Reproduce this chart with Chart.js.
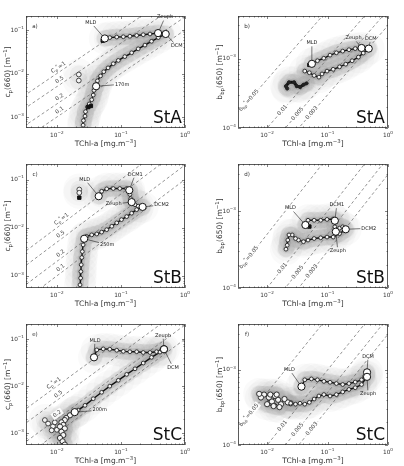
<!DOCTYPE html>
<html>
<head>
<meta charset="utf-8">
<script src="https://cdn.jsdelivr.net/npm/chart.js@4.4.0/dist/chart.umd.min.js"></script>
<style>
body { margin: 0; background: #fff; }
#wrap { position: relative; width: 404px; height: 466px; }
canvas { position: absolute; left: 0; top: 0; }
</style>
</head>
<body>
<div id="wrap">
<canvas id="pa" width="404" height="466"></canvas>
<canvas id="pb" width="404" height="466"></canvas>
<canvas id="pc" width="404" height="466"></canvas>
<canvas id="pd" width="404" height="466"></canvas>
<canvas id="pe" width="404" height="466"></canvas>
<canvas id="pf" width="404" height="466"></canvas>
</div>
<script>
// axis ranges
var chlRange = [0.0033, 1];
var cpRange = [5.6e-4, 0.21];
var bbpRange = [1e-4, 4.1e-3];
var lineChl = [0.0005, 20];

// constant ratio lines
var cpRatios = [1, 0.5, 0.2, 0.1];
var cpRatioLabels = ["C_{p}^{*}=1", "0.5", "0.2", "0.1"];
var bbpRatios = [0.05, 0.01, 0.005, 0.003];
var bbpRatioLabels = ["b_{bp}^{*}=0.05", "0.01", "0.005", "0.003"];

// StA
var aChl = [0.056, 0.067, 0.086, 0.109, 0.138, 0.176, 0.223, 0.284, 0.38, 0.50, 0.383, 0.30, 0.237, 0.186, 0.147, 0.115, 0.091, 0.076, 0.063, 0.054, 0.048, 0.043, 0.041, 0.038, 0.037, 0.035, 0.032, 0.030, 0.028, 0.0275, 0.026, 0.0257];
var aCp = [0.064, 0.067, 0.069, 0.070, 0.072, 0.075, 0.078, 0.081, 0.085, 0.081, 0.067, 0.055, 0.045, 0.037, 0.030, 0.0245, 0.020, 0.0168, 0.0135, 0.011, 0.0088, 0.0068, 0.0051, 0.0041, 0.0032, 0.0025, 0.0020, 0.0017, 0.00133, 0.00105, 0.00083, 0.00065];
var aMarkNames = ["MLD", "Zeuph", "DCM", "170m"];
var aMarkChl = [0.056, 0.38, 0.50, 0.041];
var aMarkCp = [0.064, 0.085, 0.081, 0.0051];
var aExtraChl = [0.022, 0.022];
var aExtraCp = [0.0095, 0.0069];
var aDarkChl = [0.052, 0.031, 0.034];
var aDarkCp = [0.057, 0.0017, 0.0018];

var bChl = [0.055, 0.068, 0.0866, 0.110, 0.14, 0.178, 0.226, 0.287, 0.365, 0.48, 0.39, 0.324, 0.255, 0.20, 0.158, 0.124, 0.098, 0.081, 0.072, 0.060, 0.050, 0.042];
var bBbp = [8.4e-4, 9.3e-4, 1.01e-3, 1.12e-3, 1.21e-3, 1.28e-3, 1.34e-3, 1.39e-3, 1.42e-3, 1.39e-3, 1.2e-3, 1.05e-3, 9.3e-4, 8.3e-4, 7.6e-4, 7.0e-4, 6.6e-4, 6.0e-4, 5.4e-4, 5.7e-4, 6.25e-4, 6.6e-4];
var bDeepChl = [0.045, 0.040, 0.035, 0.031, 0.028, 0.023, 0.0205, 0.0215];
var bDeepBbp = [4.4e-4, 4.2e-4, 3.9e-4, 4.0e-4, 4.55e-4, 4.55e-4, 4.0e-4, 3.7e-4];
var bMarkNames = ["MLD", "Zeuph", "DCM"];
var bMarkChl = [0.055, 0.365, 0.48];
var bMarkBbp = [8.4e-4, 1.42e-3, 1.39e-3];
var bDarkChl = [0.05];
var bDarkBbp = [8.1e-4];

// StB
var cChl = [0.045, 0.050, 0.060, 0.076, 0.096, 0.123, 0.135, 0.138, 0.142, 0.147, 0.166, 0.186, 0.218, 0.176, 0.147, 0.123, 0.102, 0.086, 0.072, 0.060, 0.050, 0.042, 0.035, 0.029, 0.0267, 0.0257, 0.025, 0.0245, 0.024, 0.0237, 0.0235, 0.023];
var cCp = [0.045, 0.057, 0.064, 0.065, 0.065, 0.065, 0.060, 0.049, 0.040, 0.034, 0.030, 0.028, 0.027, 0.0237, 0.020, 0.017, 0.0147, 0.0126, 0.0107, 0.0091, 0.0081, 0.0074, 0.0071, 0.0066, 0.0059, 0.0044, 0.0032, 0.0024, 0.0017, 0.00123, 0.0009, 0.00065];
var cMarkNames = ["MLD", "DCM1", "Zeuph", "DCM2", "250m"];
var cMarkChl = [0.045, 0.135, 0.147, 0.218, 0.0267];
var cMarkCp = [0.045, 0.060, 0.034, 0.027, 0.0059];
var cExtraChl = [0.0224, 0.0224];
var cExtraCp = [0.062, 0.053];
var cDarkChl = [0.0224];
var cDarkCp = [0.042];

var dChl = [0.043, 0.0475, 0.060, 0.077, 0.098, 0.124, 0.132, 0.132, 0.137, 0.158, 0.178, 0.20, 0.158, 0.124, 0.098, 0.077, 0.060, 0.0475, 0.040, 0.033, 0.0295, 0.026, 0.023, 0.022, 0.0215, 0.0205];
var dBbp = [6.6e-4, 7.6e-4, 7.6e-4, 7.6e-4, 7.8e-4, 7.9e-4, 7.5e-4, 6.25e-4, 5.4e-4, 6.0e-4, 6.25e-4, 5.8e-4, 5.1e-4, 4.6e-4, 4.6e-4, 4.5e-4, 4.4e-4, 4.2e-4, 4.0e-4, 4.2e-4, 4.4e-4, 4.9e-4, 4.9e-4, 4.2e-4, 3.6e-4, 3.2e-4];
var dMarkNames = ["MLD", "DCM1", "Zeuph", "DCM2"];
var dMarkChl = [0.043, 0.132, 0.137, 0.20];
var dMarkBbp = [6.6e-4, 7.5e-4, 5.4e-4, 5.8e-4];
var dDarkChl = [0.05];
var dDarkBbp = [6.3e-4];

// StC
var eChl = [0.038, 0.042, 0.053, 0.067, 0.086, 0.109, 0.138, 0.176, 0.223, 0.284, 0.36, 0.43, 0.47, 0.407, 0.30, 0.223, 0.166, 0.123, 0.091, 0.067, 0.050, 0.037, 0.0275, 0.0215, 0.019];
var eCp = [0.041, 0.059, 0.062, 0.061, 0.058, 0.055, 0.054, 0.054, 0.052, 0.052, 0.054, 0.059, 0.061, 0.053, 0.041, 0.031, 0.0234, 0.0178, 0.0133, 0.010, 0.0074, 0.0054, 0.0039, 0.0031, 0.0028];
var eDeepChl = [0.019, 0.016, 0.014, 0.0133, 0.0118, 0.0126, 0.0112, 0.0133, 0.0118, 0.0126, 0.0112, 0.0123, 0.0133];
var eDeepCp = [0.0028, 0.0024, 0.0021, 0.0019, 0.0017, 0.0015, 0.00138, 0.00126, 0.00107, 0.00091, 0.00079, 0.00067, 0.00057];
var eMarkNames = ["MLD", "Zeuph", "DCM", "200m"];
var eMarkChl = [0.038, 0.47, 0.47, 0.019];
var eMarkCp = [0.041, 0.061, 0.061, 0.0028];
var eExtraChl = [0.0065, 0.0073, 0.0087, 0.0093, 0.010, 0.0083];
var eExtraCp = [0.0019, 0.0016, 0.0014, 0.0017, 0.00118, 0.00115];

var fChl = [0.037, 0.042, 0.054, 0.068, 0.087, 0.110, 0.14, 0.178, 0.226, 0.287, 0.365, 0.41, 0.45, 0.45, 0.365, 0.287, 0.226, 0.178, 0.14, 0.11, 0.087, 0.072, 0.060, 0.050, 0.042, 0.035, 0.0295, 0.0245];
var fBbp = [6.0e-4, 7.4e-4, 7.6e-4, 7.4e-4, 7.05e-4, 6.85e-4, 6.6e-4, 6.4e-4, 6.6e-4, 6.9e-4, 7.4e-4, 8.2e-4, 9.3e-4, 8.1e-4, 6.4e-4, 5.8e-4, 5.5e-4, 5.1e-4, 4.7e-4, 4.5e-4, 4.7e-4, 4.5e-4, 4.1e-4, 3.7e-4, 3.5e-4, 3.6e-4, 3.5e-4, 3.6e-4];
var fDeepChl = [0.0245, 0.022, 0.0194, 0.017, 0.0152, 0.0135, 0.012, 0.0107, 0.010, 0.0128, 0.016, 0.0089, 0.0079, 0.0113, 0.0144, 0.0074];
var fDeepBbp = [3.6e-4, 3.7e-4, 4.1e-4, 3.5e-4, 4.0e-4, 4.5e-4, 3.8e-4, 4.3e-4, 3.5e-4, 3.3e-4, 3.2e-4, 4.7e-4, 4.3e-4, 4.7e-4, 4.7e-4, 4.8e-4];
var fMarkNames = ["MLD", "DCM", "Zeuph"];
var fMarkChl = [0.037, 0.45, 0.45];
var fMarkBbp = [6.0e-4, 9.3e-4, 8.1e-4];

var FONT = '"DejaVu Sans", sans-serif';

var panels = [
    {id: "pa", box: [26, 4, 185, 128], kind: "cp", letter: "a)", station: "StA",
     chl: aChl, val: aCp, markNames: aMarkNames, markChl: aMarkChl, markVal: aMarkCp,
     extraChl: aExtraChl, extraVal: aExtraCp, darkChl: aDarkChl, darkVal: aDarkCp,
     labelAt: [0.0115, 0.012, 0.012, 0.012],
     notes: {"MLD": [-14, -16], "Zeuph": [7, -16], "DCM": [11, 12], "170m": [26, -2]}},
    {id: "pb", box: [238, 4, 398, 128], kind: "bbp", letter: "b)", station: "StA",
     chl: bChl, val: bBbp, deepChl: bDeepChl, deepVal: bDeepBbp, deepDense: true,
     markNames: bMarkNames, markChl: bMarkChl, markVal: bMarkBbp,
     darkChl: bDarkChl, darkVal: bDarkBbp,
     labelAt: [0.005, 0.018, 0.032, 0.055],
     notes: {"MLD": [0, -21], "Zeuph": [-8, -10], "DCM": [2, -10]}},
    {id: "pc", box: [26, 164, 185, 288], kind: "cp", letter: "c)", station: "StB",
     chl: cChl, val: cCp, markNames: cMarkNames, markChl: cMarkChl, markVal: cMarkCp,
     extraChl: cExtraChl, extraVal: cExtraCp, darkChl: cDarkChl, darkVal: cDarkCp,
     labelAt: [0.0129, 0.0125, 0.0125, 0.0125],
     notes: {"MLD": [-14, -17], "DCM1": [6, -16], "Zeuph": [-18, 2], "DCM2": [19, -2], "250m": [23, 6]}},
    {id: "pd", box: [238, 164, 398, 288], kind: "bbp", letter: "d)", station: "StB",
     chl: dChl, val: dBbp, markNames: dMarkNames, markChl: dMarkChl, markVal: dMarkBbp,
     darkChl: dDarkChl, darkVal: dDarkBbp,
     labelAt: [0.005, 0.018, 0.032, 0.055],
     notes: {"MLD": [-15, -17], "DCM1": [2, -16], "Zeuph": [2, 19], "DCM2": [23, -1]}},
    {id: "pe", box: [26, 324, 185, 445], kind: "cp", letter: "e)", station: "StC",
     chl: eChl, val: eCp, deepChl: eDeepChl, deepVal: eDeepCp,
     markNames: eMarkNames, markChl: eMarkChl, markVal: eMarkCp,
     extraChl: eExtraChl, extraVal: eExtraCp,
     labelAt: [0.0098, 0.0115, 0.011],
     notes: {"MLD": [1, -17], "Zeuph": [-1, -14], "DCM": [9, 18], "200m": [25, -2]}},
    {id: "pf", box: [238, 324, 398, 445], kind: "bbp", letter: "f)", station: "StC",
     chl: fChl, val: fBbp, deepChl: fDeepChl, deepVal: fDeepBbp,
     markNames: fMarkNames, markChl: fMarkChl, markVal: fMarkBbp,
     labelAt: [0.005, 0.018, 0.032, 0.055],
     notes: {"MLD": [-12, -17], "DCM": [1, -16], "Zeuph": [1, 17]}}
];

function xy(xs, ys) {
    return xs.map(function(x, i) { return {x: x, y: ys[i]}; });
}

// text with _{sub} and ^{sup} parts
function richParts(str) {
    var parts = [], re = /([_^])\{([^}]*)\}|([^_^]+)/g, m;
    while ((m = re.exec(str))) {
        if (m[3]) parts.push({t: m[3], k: 0});
        else parts.push({t: m[2], k: m[1] == "_" ? 1 : 2});
    }
    return parts;
}

function richWidth(ctx, str, size) {
    var w = 0;
    richParts(str).forEach(function(p) {
        ctx.font = (p.k ? size * 0.72 : size) + "px " + FONT;
        w += ctx.measureText(p.t).width;
    });
    return w;
}

function drawRich(ctx, str, x, y, size, align, angle, color) {
    var parts = richParts(str);
    var w = richWidth(ctx, str, size);
    ctx.save();
    ctx.translate(x, y);
    ctx.rotate(angle || 0);
    ctx.fillStyle = color || "#222";
    ctx.textBaseline = "middle";
    ctx.textAlign = "left";
    var cx = align == "center" ? -w / 2 : (align == "right" ? -w : 0);
    parts.forEach(function(p) {
        var s = p.k ? size * 0.72 : size;
        ctx.font = s + "px " + FONT;
        var dy = p.k == 1 ? size * 0.3 : (p.k == 2 ? -size * 0.38 : 0);
        ctx.fillText(p.t, cx, dy);
        cx += ctx.measureText(p.t).width;
    });
    ctx.restore();
    return w;
}

function logTicks(min, max) {
    var out = [];
    for (var d = Math.floor(Math.log10(min)); d <= Math.ceil(Math.log10(max)); d++) {
        for (var m = 1; m < 10; m++) {
            var v = m * Math.pow(10, d);
            if (v >= min * 0.999 && v <= max * 1.001) out.push({v: v, major: m == 1, d: d});
        }
    }
    return out;
}

function powLabel(d) {
    return "10^{" + (d < 0 ? "\u2212" + (-d) : d) + "}";
}

function panelPlugin(p) {
    var cp = p.kind == "cp";
    return {
        id: "panel_" + p.id,
        afterDatasetsDraw: function(chart) {
            var ctx = chart.ctx, xs = chart.scales.x, ys = chart.scales.y;
            var ratios = cp ? cpRatios : bbpRatios;
            var labels = cp ? cpRatioLabels : bbpRatioLabels;
            // inline labels on the ratio lines
            p.labelAt.forEach(function(c, i) {
                var k = ratios[i];
                var x1 = xs.getPixelForValue(c), y1 = ys.getPixelForValue(c * k);
                var x2 = xs.getPixelForValue(c * 2), y2 = ys.getPixelForValue(c * 2 * k);
                var ang = Math.atan2(y2 - y1, x2 - x1);
                var shift = cp ? 4 : 0;
                var lx = x1 + Math.sin(ang) * shift, ly = y1 - Math.cos(ang) * shift;
                var size = 5.5;
                var w = richWidth(ctx, labels[i], size);
                ctx.save();
                ctx.translate(lx, ly);
                ctx.rotate(ang);
                ctx.fillStyle = "rgba(255,255,255,0.9)";
                ctx.fillRect(-w / 2 - 1.5, -3.5, w + 3, 7);
                ctx.restore();
                drawRich(ctx, labels[i], lx, ly, size, "center", ang, "#444");
            });
            // annotations with leader lines
            p.markNames.forEach(function(name, i) {
                var off = p.notes[name];
                if (!off) return;
                var px = xs.getPixelForValue(p.markChl[i]), py = ys.getPixelForValue(p.markVal[i]);
                var tx = px + off[0], ty = py + off[1];
                ctx.font = "5px " + FONT;
                var w = ctx.measureText(name).width;
                var ddx = px - tx, ddy = py - ty;
                var t = Math.min(ddx ? (w / 2 + 1) / Math.abs(ddx) : 1e9, ddy ? 3.5 / Math.abs(ddy) : 1e9);
                var len = Math.hypot(ddx, ddy);
                ctx.save();
                ctx.strokeStyle = "#222";
                ctx.lineWidth = 0.6;
                ctx.beginPath();
                ctx.moveTo(px - ddx / len * 3.5, py - ddy / len * 3.5);
                ctx.lineTo(tx + ddx * t, ty + ddy * t);
                ctx.stroke();
                ctx.fillStyle = "#222";
                ctx.textAlign = "center";
                ctx.textBaseline = "middle";
                ctx.fillText(name, tx, ty);
                ctx.restore();
            });
        },
        afterDraw: function(chart) {
            var ctx = chart.ctx, xs = chart.scales.x, ys = chart.scales.y, a = chart.chartArea;
            ctx.save();
            // frame
            ctx.strokeStyle = "#333";
            ctx.lineWidth = 0.8;
            ctx.strokeRect(a.left + 0.5, a.top + 0.5, a.right - a.left - 1, a.bottom - a.top - 1);
            // inward ticks on all sides
            ctx.lineWidth = 0.6;
            ctx.beginPath();
            logTicks(xs.min, xs.max).forEach(function(t) {
                var px = Math.round(xs.getPixelForValue(t.v)) + 0.5, l = t.major ? 3 : 1.5;
                ctx.moveTo(px, a.bottom); ctx.lineTo(px, a.bottom - l);
                ctx.moveTo(px, a.top); ctx.lineTo(px, a.top + l);
            });
            logTicks(ys.min, ys.max).forEach(function(t) {
                var py = Math.round(ys.getPixelForValue(t.v)) + 0.5, l = t.major ? 3 : 1.5;
                ctx.moveTo(a.left, py); ctx.lineTo(a.left + l, py);
                ctx.moveTo(a.right, py); ctx.lineTo(a.right - l, py);
            });
            ctx.stroke();
            ctx.restore();
            // tick labels
            logTicks(xs.min, xs.max).forEach(function(t) {
                if (t.major) drawRich(ctx, powLabel(t.d), xs.getPixelForValue(t.v), a.bottom + 7, 5.8, "center", 0, "#333");
            });
            logTicks(ys.min, ys.max).forEach(function(t) {
                if (t.major) drawRich(ctx, powLabel(t.d), a.left - 2, ys.getPixelForValue(t.v), 5.8, "right", 0, "#333");
            });
            // axis titles
            drawRich(ctx, "TChl-a [mg.m^{\u22123}]", (a.left + a.right) / 2, a.bottom + 16, 7.5, "center", 0, "#333");
            drawRich(ctx, cp ? "c_{p}(660) [m^{\u22121}]" : "b_{bp}(650) [m^{\u22121}]", a.left - 18, (a.top + a.bottom) / 2, 7.5, "center", -Math.PI / 2, "#333");
            // panel letter and station name
            drawRich(ctx, p.letter, a.left + 9, a.top + 11, 5.5, "center", 0, "#333");
            ctx.save();
            ctx.font = "17px " + FONT;
            ctx.fillStyle = "#111";
            ctx.textAlign = "right";
            ctx.textBaseline = "alphabetic";
            ctx.fillText(p.station, a.right - 3, a.bottom - 5);
            ctx.restore();
        }
    };
}

panels.forEach(function(p) {
    var cp = p.kind == "cp";
    var ratios = cp ? cpRatios : bbpRatios;
    var profile = xy(p.chl, p.val);
    var deep = p.deepChl ? xy(p.deepChl, p.deepVal) : [];
    var extra = p.extraChl ? xy(p.extraChl, p.extraVal) : [];
    var all = profile.concat(deep).concat(extra);
    var datasets = [];

    // grey cloud of individual measurements around the mean profile
    datasets.push({data: all, showLine: false, pointRadius: 16,
        pointBackgroundColor: "rgba(160,160,160,0.05)", pointBorderWidth: 0, order: 12, clip: 0});
    datasets.push({data: all, showLine: false, pointRadius: 9,
        pointBackgroundColor: "rgba(140,140,140,0.09)", pointBorderWidth: 0, order: 11, clip: 0});
    [profile, deep].forEach(function(d) {
        if (!d.length) return;
        datasets.push({data: d, showLine: true, borderColor: "rgba(150,150,150,0.18)", borderWidth: 16,
            borderCapStyle: "round", borderJoinStyle: "round", pointRadius: 0, order: 10, clip: 0});
        datasets.push({data: d, showLine: true, borderColor: "rgba(120,120,120,0.22)", borderWidth: 7,
            borderCapStyle: "round", borderJoinStyle: "round", pointRadius: 0, order: 10, clip: 0});
    });

    ratios.forEach(function(k) {
        datasets.push({data: lineChl.map(function(c) { return {x: c, y: c * k}; }), showLine: true,
            borderColor: "#666", borderWidth: 0.7, borderDash: [3, 2.5], pointRadius: 0, order: 8, clip: 0});
    });

    datasets.push({data: profile, showLine: true, borderColor: "#111", borderWidth: 1.4,
        pointRadius: 1.9, pointBackgroundColor: "#f4f4f4", pointBorderColor: "#222", pointBorderWidth: 0.9, order: 3, clip: 0});
    if (deep.length) {
        datasets.push({data: deep, showLine: true, borderColor: "#111", borderWidth: p.deepDense ? 3 : 1,
            pointRadius: p.deepDense ? 1.6 : 2.6, pointBackgroundColor: p.deepDense ? "#222" : "#f4f4f4",
            pointBorderColor: "#222", pointBorderWidth: 0.9, order: 3, clip: 0});
    }
    if (extra.length) {
        datasets.push({data: extra, showLine: false, pointRadius: 2.4, pointBackgroundColor: "#f4f4f4",
            pointBorderColor: "#333", pointBorderWidth: 0.9, order: 3, clip: 0});
    }
    if (p.darkChl) {
        datasets.push({data: xy(p.darkChl, p.darkVal), showLine: false, pointRadius: 2.4, pointStyle: "rect",
            pointBackgroundColor: "#111", pointBorderColor: "#111", order: 2, clip: 0});
    }
    datasets.push({data: xy(p.markChl, p.markVal), showLine: false, pointRadius: 3.6,
        pointBackgroundColor: "#fff", pointBorderColor: "#111", pointBorderWidth: 1, order: 1, clip: 0});

    new Chart(document.getElementById(p.id), {
        type: "scatter",
        data: {datasets: datasets},
        options: {
            responsive: false,
            animation: false,
            devicePixelRatio: 1,
            layout: {padding: {left: p.box[0], top: p.box[1], right: 404 - p.box[2], bottom: 466 - p.box[3]}},
            scales: {
                x: {type: "logarithmic", min: chlRange[0], max: chlRange[1], display: false},
                y: {type: "logarithmic", min: cp ? cpRange[0] : bbpRange[0], max: cp ? cpRange[1] : bbpRange[1], display: false}
            },
            plugins: {legend: {display: false}, tooltip: {enabled: false}}
        },
        plugins: [panelPlugin(p)]
    });
});
</script>
</body>
</html>
